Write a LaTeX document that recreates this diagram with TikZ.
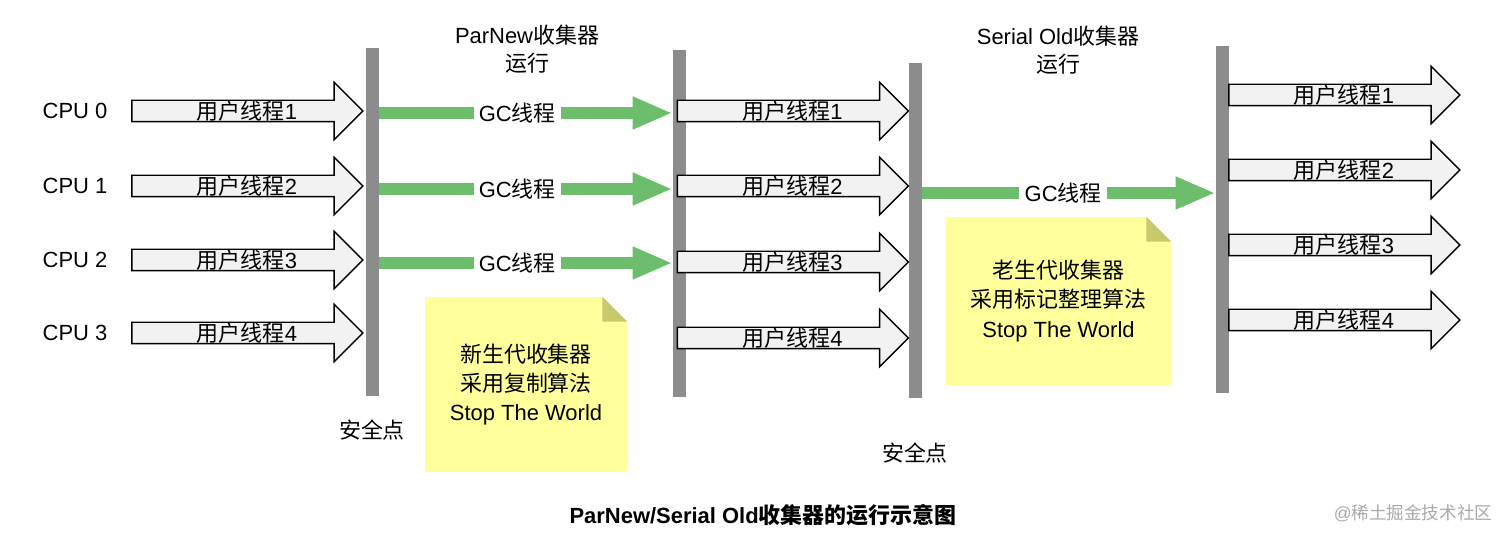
\documentclass[tikz,border=0pt]{standalone}
\usepackage{fontspec}
\setmainfont{Liberation Sans}
\newfontfamily\cjk{Noto Sans CJK SC}
\usepackage{xcolor}
\usepackage{tikz}
\usetikzlibrary{shapes.arrows, arrows.meta, positioning, calc}
\definecolor{bargray}{RGB}{140,140,140}
\definecolor{gcgreen}{RGB}{108,190,108}
\definecolor{threadfill}{RGB}{242,242,242}
\definecolor{noteyellow}{RGB}{255,255,155}
\definecolor{notefold}{RGB}{200,200,108}
\definecolor{markgray}{RGB}{170,170,170}
\tikzset{
  txt/.style={font=\fontsize{12.5}{15.9}\selectfont, inner sep=0pt, align=center},
  safebar/.style={rectangle, fill=bargray, minimum width=0.26cm, inner sep=0pt},
  uthread/.style={single arrow, draw=black, line width=0.8pt, fill=threadfill, inner sep=0.2cm, minimum height=4.62cm, minimum width=1.12cm, single arrow head extend=0.36cm, single arrow tip angle=90},
  gcline/.style={draw=gcgreen, line width=0.24cm, -{Triangle[length=0.8cm, width=0.6cm]}},
  gclabel/.style={txt, fill=white, inner xsep=3pt, inner ysep=2pt},
  note/.style={txt, fill=noteyellow},
}

\begin{document}
\begin{tikzpicture}[x=0.02cm, y=-0.02cm]
\useasboundingbox (0,0) rectangle (1512,540);

% safe points
\node[safebar, minimum height=6.96cm] (bar1) at (372.5,222) {};
\node[safebar, minimum height=6.94cm] (bar2) at (679.5,223.5) {};
\node[safebar, minimum height=6.70cm] (bar3) at (915.5,230.5) {};
\node[safebar, minimum height=6.94cm] (bar4) at (1222.5,219.5) {};

% titles
\node[txt] (par-title) at (527,49) {ParNew{\cjk 收集器}\\{\cjk 运行}};
\node[txt] (ser-title) at (1058,50) {Serial Old{\cjk 收集器}\\{\cjk 运行}};

% CPUs and user threads (left)
\foreach \i/\n/\y in {0/1/111,1/2/186,2/3/260,3/4/333}{
  \node[txt] (cpu\i) at (75,\y) {CPU \i};
  \node[uthread] (ua\i) at (242,\y) {};
  \node[txt] at ([xshift=0.1cm]ua\i.center) {{\cjk 用户线程}\n};
}

% user threads (middle)
\foreach \i/\n/\y in {0/1/111,1/2/186,2/3/262,3/4/338}{
  \node[uthread] (ub\i) at (787.5,\y) {};
  \node[txt] at ([xshift=0.1cm]ub\i.center) {{\cjk 用户线程}\n};
}

% user threads (right)
\foreach \i/\n/\y in {0/1/95,1/2/170,2/3/245,3/4/320}{
  \node[uthread] (uc\i) at (1339,\y) {};
  \node[txt] at ([xshift=0.1cm]uc\i.center) {{\cjk 用户线程}\n};
}

% GC threads
\coordinate (gc0) at (0,113);
\coordinate (gc1) at (0,189);
\coordinate (gc2) at (0,263);
\coordinate (gcold) at (0,193);
\foreach \i in {0,1,2}{
  \draw[gcline] (bar1.east |- gc\i) -- node[gclabel, pos=0.47] {GC{\cjk 线程}} (bar2.west |- gc\i);
}
\draw[gcline] (bar3.east |- gcold) -- node[gclabel, pos=0.48] {GC{\cjk 线程}} (bar4.west |- gcold);

% safe point labels
\node[txt] (safe1) at (372,430) {\cjk 安全点};
\node[txt] (safe2) at (915,453) {\cjk 安全点};

% notes
\node[note, minimum width=4.04cm, minimum height=3.5cm] (note1) at (526,384.5)
  {{\cjk 新生代收集器}\\[0.8pt]{\cjk 采用复制算法}\\[0.8pt]Stop The World};
\node[note, minimum width=4.5cm, minimum height=3.36cm] (note2) at (1058.5,301)
  {{\cjk 老生代收集器}\\[0.8pt]{\cjk 采用标记整理算法}\\[0.8pt]Stop The World};
\foreach \n in {note1,note2}{
  \fill[white] (\n.north east) ++(-25,0) -- (\n.north east) -- ++(0,25) -- cycle;
  \fill[notefold] (\n.north east) ++(-25,0) -- ++(25,25) -- ++(-25,0) -- cycle;
}

% caption
\node[txt, font=\bfseries\fontsize{12.5}{15}\selectfont] (caption) at (763,515) {ParNew/Serial Old{\cjk\bfseries 收集器的运行示意图}};
\node[txt, text=markgray, font=\fontsize{10}{12}\selectfont] (mark) at (1413,513) {@{\cjk 稀土掘金技术社区}};
\end{tikzpicture}
\end{document}
